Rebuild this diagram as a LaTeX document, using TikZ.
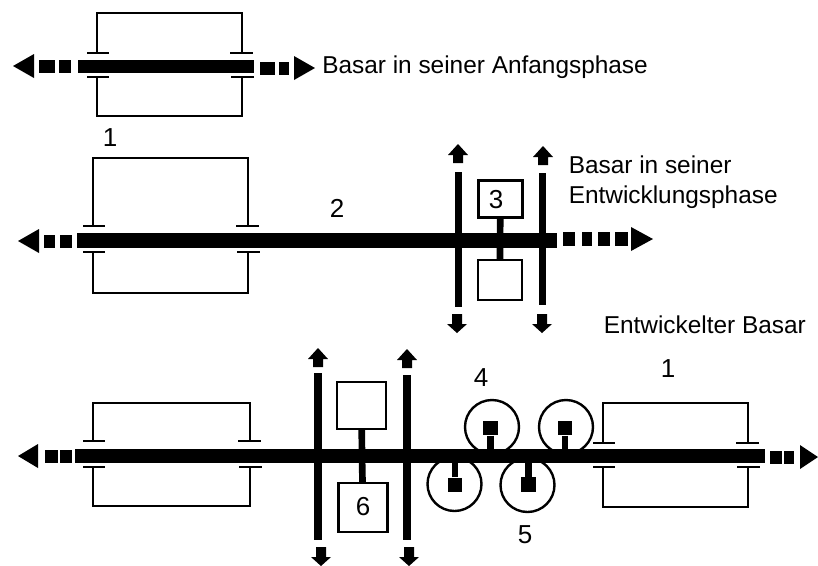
\documentclass[tikz,border=0pt]{standalone}
\usepackage{fontspec}
\setmainfont{Liberation Sans}
\newcommand{\dsh}[4]{\fill (#1,#3-#4) rectangle (#2,#3+#4);}
\newcommand{\trileft}[3]{\fill (#1,#3) -- (#2,#3-12) -- (#2,#3+12) -- cycle;}
\newcommand{\triright}[3]{\fill (#1,#3) -- (#2,#3-12) -- (#2,#3+12) -- cycle;}
% shop block: top y, T-bar top y, T-bar bottom y, bottom y at x1,x2
\newcommand{\block}[6]{%
 \draw[wall] (#1-10,#4) -- (#1+12,#4);
 \draw[wall] (#2-12,#4) -- (#2+11,#4);
 \draw[wall] (#1-10,#5) -- (#1+12,#5);
 \draw[wall] (#2-11,#5) -- (#2+12,#5);
 \draw[wall,line join=miter] (#1,#4) -- (#1,#3) -- (#2,#3) -- (#2,#4);
 \draw[wall,line join=miter] (#1,#5) -- (#1,#6) -- (#2,#6) -- (#2,#5);}
\newcommand{\uparr}[2]{\fill (#1,#2) -- (#1+10,#2+11) -- (#1+5,#2+11) -- (#1+5,#2+19) -- (#1-5,#2+19) -- (#1-5,#2+11) -- (#1-10,#2+11) -- cycle;}
\newcommand{\downarr}[2]{\fill (#1,#2) -- (#1+10,#2-9) -- (#1+5,#2-9) -- (#1+5,#2-19) -- (#1-5,#2-19) -- (#1-5,#2-9) -- (#1-10,#2-9) -- cycle;}
\tikzset{
 wall/.style={line width=1.8pt},
 stem/.style={line width=5pt},
 txt/.style={font=\fontsize{18.3}{22}\selectfont,anchor=west,inner sep=0pt},
 num/.style={font=\fontsize{19.5}{22}\selectfont,inner sep=0pt},
 hall/.style={draw,line width=1.8pt,fill=white,inner sep=0pt},
 khan/.style={circle,draw,line width=1.8pt,inner sep=0pt,minimum size=40.5pt},
 core/.style={fill=black,inner sep=0pt,minimum size=11pt},
}
\begin{document}
\begin{tikzpicture}[x=0.75pt,y=-0.75pt]
\useasboundingbox (0,0) rectangle (818,565);
% ---- row 1
\block{97}{242}{13}{53}{77}{116}
\fill (78,60) rectangle (254,73);
\trileft{13}{34}{66}
\dsh{39}{55}{66}{6.5}\dsh{59}{71}{66}{6.5}
\dsh{260}{275}{68}{6.5}\dsh{279}{289}{68}{6.5}
\triright{315}{294}{68}
\node[txt] (t1) at (322,67) {Basar in seiner Anfangsphase};
\node[num] (n1) at (110,138) {1};
% ---- row 2
\block{93}{248}{158}{226}{252}{293}
\node[hall,minimum width=33pt,minimum height=28pt] (b3) at (500.5,199) {};
\node[hall,minimum width=33pt,minimum height=30pt] (b3b) at (500,280) {};
\coordinate (s3) at (500,240);
\draw[stem] (b3) -- (s3) -- (b3b);
\node[hall,minimum width=33pt,minimum height=28pt] (b3) at (500.5,199) {};
\node[hall,minimum width=33pt,minimum height=30pt] (b3b) at (500,280) {};
\fill (77,233) rectangle (557,248);
\fill (454.5,172) rectangle (461.5,307);
\fill (538.5,173) rectangle (545.5,305);
\uparr{458}{144}\uparr{543}{146}
\downarr{457}{333}\downarr{542}{333}
\trileft{18}{39}{241}
\dsh{44}{55}{241}{6.5}\dsh{60}{72}{241}{6.5}
\dsh{563}{575}{239}{7}\dsh{582}{592}{239}{7}\dsh{598}{610}{239}{7}\dsh{615}{628}{239}{7}
\triright{653}{631}{239}
\node[num] (n3) at (496,200) {3};
\node[num] (n2) at (337,208) {2};
\node[txt] (t2a) at (568.5,165) {Basar in seiner};
\node[txt] (t2b) at (568.5,197) {Entwicklungsphase};
\node[txt] (t3) at (603.5,325) {Entwickelter Basar};
% ---- row 3
\block{93}{250}{403}{441}{467}{506}
\block{603}{748}{403}{443}{467}{507}
\node[khan] (c1) at (492,427) {};
\node[khan] (c2) at (566,427) {};
\node[khan] (c3) at (454.5,484) {};
\node[khan] (c4) at (527.5,485) {};
\node[core] (q1) at (490.5,428) {};
\node[core] (q2) at (565,428) {};
\node[core] (q3) at (455,485) {};
\node[core] (q4) at (528.5,484.5) {};
\coordinate (m1) at (490.5,456);\coordinate (m2) at (565,456);
\coordinate (m3) at (455,456);\coordinate (m4) at (528.5,456);
\draw[stem] (q1) -- (m1);\draw[stem] (q2) -- (m2);
\draw[stem] (q3) -- (m3);\draw[stem] (q4) -- (m4);
\node[hall,minimum width=36.5pt,minimum height=35pt] (b6t) at (361.5,405.5) {};
\node[hall,minimum width=37pt,minimum height=36.5pt] (b6) at (363,507.5) {};
\coordinate (s6) at (362,456);
\draw[stem] (b6t) -- (s6) -- (b6);
\node[hall,minimum width=36.5pt,minimum height=35pt] (b6t) at (361.5,405.5) {};
\node[hall,minimum width=37pt,minimum height=36.5pt] (b6) at (363,507.5) {};
\fill (75,449) rectangle (765,463);
\fill (314,373) rectangle (322,540);
\fill (403,375) rectangle (411,540);
\uparr{318}{348}\uparr{407}{349}
\downarr{321}{566}\downarr{409}{566}
\trileft{18}{38}{456}
\dsh{45}{58}{456}{6.5}\dsh{60}{72}{456}{6.5}
\dsh{770}{782}{457}{6.5}\dsh{784}{794}{457}{6.5}
\triright{818}{800}{457}
\node[num] (n6) at (363,507) {6};
\node[num] (n4) at (481,378) {4};
\node[num] (n5) at (525,535) {5};
\node[num] (n1b) at (668,369) {1};
\end{tikzpicture}
\end{document}
